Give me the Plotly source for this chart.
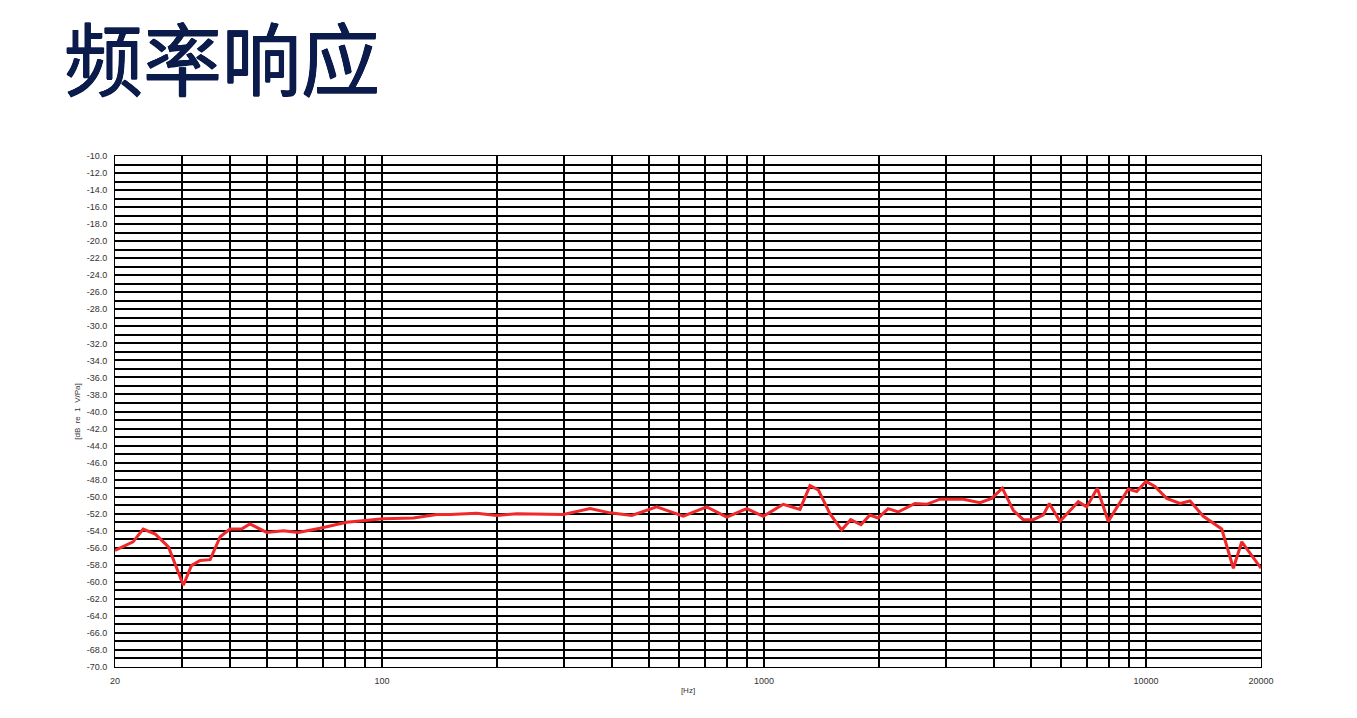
import plotly.graph_objects as go

# Frequency response (Hz, dB re 1 V/Pa)
freq_hz = [20, 22.3, 23.7, 25.5, 27.6, 30.2, 31.7, 33.4, 35.5, 37.7, 40.0, 42.9, 45.1,
           49.9, 55.2, 60.4, 68.8, 80.8, 100.8, 120.8, 139.1, 150.7, 177, 199.6, 225.3,
           298.3, 350.4, 395.3, 450.6, 523.8, 614.9, 708, 798.9, 901, 995.4, 1123, 1242,
           1319.5, 1387, 1488, 1597, 1686, 1794, 1893, 1990, 2114, 2245, 2484, 2666, 2889,
           3325, 3676, 3945, 4205, 4493, 4773, 5068, 5385, 5582, 5953, 6648, 6993, 7455,
           7963, 8988, 9455, 10000, 10556, 11327, 12275, 13037, 14130, 15786, 16930,
           17813, 20000]
level_db = [-56.3, -55.3, -53.8, -54.4, -55.9, -60.4, -58.1, -57.5, -57.4, -54.7, -53.8,
            -53.8, -53.2, -54.2, -54.0, -54.2, -53.7, -53.0, -52.6, -52.5, -52.1, -52.1,
            -51.96, -52.2, -52.0, -52.1, -51.4, -51.9, -52.2, -51.2, -52.3, -51.2, -52.4,
            -51.4, -52.3, -50.9, -51.5, -48.7, -49.2, -52.0, -53.9, -52.7, -53.3, -52.15,
            -52.5, -51.4, -51.8, -50.8, -50.9, -50.3, -50.3, -50.7, -50.2, -49.0, -51.6,
            -52.7, -52.7, -52.15, -50.8, -52.9, -50.6, -51.2, -49.0, -52.9, -49.1, -49.4,
            -48.2, -48.8, -50.2, -50.8, -50.5, -52.3, -53.8, -58.4, -55.3, -58.4]

# vertical grid positions and which ones carry a label
x_grid = [20, 30, 40, 50, 60, 70, 80, 90,
          100, 200, 300, 400, 500, 600, 700, 800, 900,
          1000, 2000, 3000, 4000, 5000, 6000, 7000, 8000, 9000,
          10000, 20000]
x_labels = {20: "20", 100: "100", 1000: "1000", 10000: "10000", 20000: "20000"}

# y ticks every 2 dB, gridlines every 1 dB
y_ticks = list(range(-70, -9, 2))
y_ticktext = ["%.1f" % v for v in y_ticks]   # plain hyphen, not unicode minus

txt = '#333333'
navy = '#0b1b4b'

fig = go.Figure(go.Scatter(
    x=freq_hz,
    y=level_db,
    mode='lines',
    line=dict(color='#f0282a', width=3),
    hoverinfo='x+y'
))

# page body has an 8px margin, so the figure is a bit smaller than the window
fig.update_layout(
    width=1349,
    height=710,
    paper_bgcolor='white',
    plot_bgcolor='white',
    showlegend=False,
    margin=dict(l=107, r=96, t=148, b=51),
    font=dict(family='Liberation Sans, Arial, sans-serif', size=9, color=txt),
)

fig.update_xaxes(
    type='log',
    range=[1.30103, 4.30103],
    tickvals=x_grid,
    ticktext=[x_labels.get(v, "") for v in x_grid],
    showgrid=True,
    gridcolor='black',
    gridwidth=2,
    showline=True,
    linecolor='black',
    linewidth=1,
    mirror=True,
    ticks='',
    ticklabelstandoff=5,
    zeroline=False,
    title=dict(text='[Hz]', font=dict(size=8, color=txt), standoff=2),
)

fig.update_yaxes(
    range=[-70, -10],
    tickvals=y_ticks,
    ticktext=y_ticktext,
    showgrid=True,
    gridcolor='black',
    gridwidth=2,
    minor=dict(dtick=1, tick0=-70, showgrid=True, gridcolor='black', gridwidth=2),
    showline=True,
    linecolor='black',
    linewidth=1,
    mirror=True,
    ticks='',
    ticklabelstandoff=5,
    zeroline=False,
    title=dict(text='[dB  re  1  V/Pa]', font=dict(size=8, color=txt), standoff=4),
)

# regular weight thickened a little with a text shadow to get a medium stroke
fig.add_annotation(
    text='频率响应',
    xref='paper', yref='paper',
    x=-0.046, y=1.196,
    xanchor='left', yanchor='middle',
    showarrow=False,
    font=dict(family='Noto Sans CJK SC', size=79, weight=400, color=navy,
              shadow=f'0.5px 0 0 {navy}, -0.5px 0 0 {navy}, 0 0.5px 0 {navy}, 0 -0.5px 0 {navy}'),
)

fig.write_html("out.html")
